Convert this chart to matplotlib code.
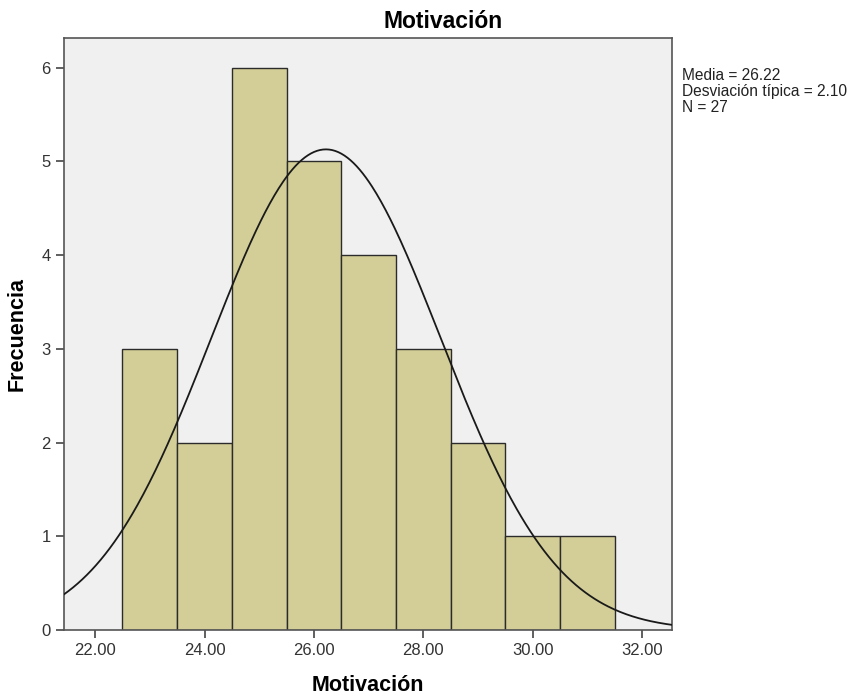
import numpy as np
import matplotlib.pyplot as plt

plt.rcParams['font.family'] = ['Liberation Sans', 'DejaVu Sans']

# histograma de Motivación (ancho de clase = 1)
bin_centers = [23, 24, 25, 26, 27, 28, 29, 30, 31]
counts = [3, 2, 6, 5, 4, 3, 2, 1, 1]
media = 26.22
desv = 2.10
n = 27
xticks = [22, 24, 26, 28, 30, 32]
yticks = [0, 1, 2, 3, 4, 5, 6]

fig = plt.figure(figsize=(8.53, 7.0), dpi=100)
ax = fig.add_axes([0.075, 0.1, 0.713, 0.846])
ax.set_facecolor('#f0f0f0')

ax.bar(bin_centers, counts, width=1.0, color='#d3ce97', edgecolor='#2b2b2b',
       linewidth=1.0, zorder=2)

# curva normal ajustada
xs = np.linspace(21.43, 32.55, 400)
ys = n * 1.0 * np.exp(-0.5 * ((xs - media) / desv) ** 2) / (desv * np.sqrt(2 * np.pi))
ax.plot(xs, ys, color='#1a1a1a', linewidth=1.3, zorder=3)

ax.set_xlim(21.43, 32.55)
ax.set_ylim(0, 6.32)
ax.set_xticks(xticks)
ax.set_xticklabels([f"{v:.2f}" for v in xticks])
ax.set_yticks(yticks)
ax.tick_params(axis='both', direction='out', length=6, width=1.2, color='#444444',
               labelsize=12, labelcolor='#333333')
for s in ax.spines.values():
    s.set_color('#555555')
    s.set_linewidth(1.2)

fig.text(0.52, 0.970, 'Motivación', fontsize=16.5, fontweight='bold',
         ha='center', va='center')
ax.set_xlabel('Motivación', fontsize=15.5, fontweight='bold', labelpad=12)
ax.set_ylabel('Frecuencia', fontsize=15.5, fontweight='bold', labelpad=10)

fig.text(0.799, 0.903,
         f"Media = {media:.2f}\nDesviación típica = {desv:.2f}\nN = {n}",
         fontsize=11.2, va='top', ha='left', linespacing=1.08, color='#222222')

plt.savefig('out.png', dpi=100)
